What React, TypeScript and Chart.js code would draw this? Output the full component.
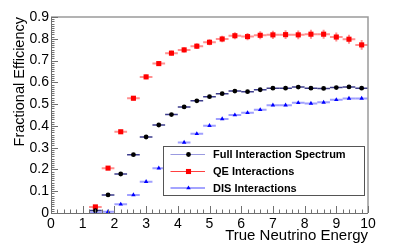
import React, { useEffect, useRef } from "react";
import { Chart, registerables } from "chart.js";

Chart.register(...registerables);

// ---- Data ----
const energies = [1.4, 1.8, 2.2, 2.6, 3.0, 3.4, 3.8, 4.2, 4.6, 5.0, 5.4, 5.8, 6.2, 6.6, 7.0, 7.4, 7.8, 8.2, 8.6, 9.0, 9.4, 9.8];
const binHalfWidth = 0.2;

const fullEff = [0.011, 0.083, 0.179, 0.268, 0.349, 0.404, 0.452, 0.487, 0.515, 0.534, 0.548, 0.560, 0.557, 0.566, 0.573, 0.573, 0.578, 0.573, 0.572, 0.576, 0.579, 0.573];
const fullErr = [0.003, 0.004, 0.004, 0.004, 0.004, 0.004, 0.004, 0.004, 0.004, 0.004, 0.004, 0.004, 0.004, 0.004, 0.004, 0.004, 0.004, 0.004, 0.004, 0.004, 0.004, 0.004];

const qeEff = [0.028, 0.206, 0.373, 0.527, 0.625, 0.686, 0.734, 0.749, 0.766, 0.784, 0.799, 0.814, 0.810, 0.816, 0.818, 0.819, 0.818, 0.821, 0.821, 0.808, 0.798, 0.772];
const qeErr = [0.006, 0.008, 0.009, 0.010, 0.011, 0.011, 0.012, 0.012, 0.013, 0.014, 0.015, 0.016, 0.017, 0.018, 0.019, 0.020, 0.020, 0.021, 0.021, 0.021, 0.021, 0.022];

const disEff = [0.002, 0.006, 0.040, 0.083, 0.144, 0.206, 0.265, 0.324, 0.364, 0.401, 0.432, 0.450, 0.460, 0.474, 0.495, 0.495, 0.506, 0.503, 0.508, 0.520, 0.526, 0.526];
const disErr = [0.003, 0.003, 0.004, 0.004, 0.004, 0.004, 0.004, 0.004, 0.004, 0.004, 0.004, 0.004, 0.004, 0.004, 0.004, 0.004, 0.004, 0.004, 0.004, 0.004, 0.004, 0.004];

const seriesLabels = ["Full Interaction Spectrum", "QE Interactions", "DIS Interactions"];
const xTitle = "True Neutrino Energy";
const yTitle = "Fractional Efficiency";

const FONT = "'Liberation Sans', Arial, Helvetica, sans-serif";

type Style = { marker: string; color: string; barColor: string; barWidth: number; legendLine: string; radius: number };
const styles: Style[] = [
  { marker: "circle", color: "#000000", barColor: "#3c3c8c", barWidth: 1.5, legendLine: "#9a9ae0", radius: 2.4 },
  { marker: "rect", color: "#ff0000", barColor: "rgba(255,70,70,0.6)", barWidth: 2, legendLine: "#ff4040", radius: 3.6 },
  { marker: "triangle", color: "#0000ff", barColor: "rgba(80,80,255,0.55)", barWidth: 2, legendLine: "#4a4aff", radius: 2.6 },
];
const errs = [fullErr, qeErr, disErr];

function drawMarker(ctx: CanvasRenderingContext2D, kind: string, x: number, y: number, r: number, color: string) {
  ctx.save();
  ctx.fillStyle = color;
  ctx.beginPath();
  if (kind === "circle") {
    ctx.arc(x, y, r, 0, Math.PI * 2);
  } else if (kind === "rect") {
    const s = r * Math.SQRT1_2;
    ctx.rect(x - s, y - s, 2 * s, 2 * s);
  } else {
    const h = r;
    ctx.moveTo(x, y - h);
    ctx.lineTo(x + h * 0.866, y + h * 0.5);
    ctx.lineTo(x - h * 0.866, y + h * 0.5);
    ctx.closePath();
  }
  ctx.fill();
  ctx.restore();
}

const rootPlugin = {
  id: "rootStyle",
  beforeDatasetsDraw(chart: any) {
    const ctx: CanvasRenderingContext2D = chart.ctx;
    const xs = chart.scales.x;
    const ys = chart.scales.y;
    ctx.save();
    chart.data.datasets.forEach((ds: any, i: number) => {
      const st = styles[i];
      ctx.strokeStyle = st.barColor;
      ctx.lineWidth = st.barWidth;
      ds.data.forEach((p: any, j: number) => {
        const yp = ys.getPixelForValue(p.y);
        const x0 = xs.getPixelForValue(p.x - binHalfWidth);
        const x1 = xs.getPixelForValue(p.x + binHalfWidth);
        const xp = xs.getPixelForValue(p.x);
        const e = errs[i][j];
        const y0 = ys.getPixelForValue(Math.max(0, p.y - e));
        const y1 = ys.getPixelForValue(p.y + e);
        ctx.beginPath();
        ctx.moveTo(x0, yp);
        ctx.lineTo(x1, yp);
        ctx.moveTo(xp, y0);
        ctx.lineTo(xp, y1);
        ctx.stroke();
      });
    });
    ctx.restore();
  },
  afterDatasetsDraw(chart: any) {
    const ctx: CanvasRenderingContext2D = chart.ctx;
    const xs = chart.scales.x;
    const ys = chart.scales.y;
    const { left, right, top, bottom } = chart.chartArea;
    ctx.save();
    // frame
    ctx.strokeStyle = "#9a9a9a";
    ctx.lineWidth = 1.5;
    ctx.beginPath();
    ctx.moveTo(left, top);
    ctx.lineTo(right, top);
    ctx.lineTo(right, bottom);
    ctx.stroke();
    ctx.strokeStyle = "#707070";
    ctx.lineWidth = 1;
    ctx.beginPath();
    ctx.moveTo(left + 0.5, top);
    ctx.lineTo(left + 0.5, bottom + 0.5);
    ctx.lineTo(right, bottom + 0.5);
    ctx.stroke();
    // y ticks: major 0.1, minor 0.01
    ctx.beginPath();
    for (let k = 0; k <= 90; k++) {
      const v = k / 100;
      const yp = Math.round(ys.getPixelForValue(v)) + 0.5;
      const len = k % 10 === 0 ? 7 : 3.5;
      ctx.moveTo(left, yp);
      ctx.lineTo(left + len, yp);
    }
    // x ticks: major 1, minor 0.2
    for (let k = 0; k <= 50; k++) {
      const v = k / 5;
      const xp = Math.round(xs.getPixelForValue(v)) + 0.5;
      const len = k % 5 === 0 ? 7 : 3.5;
      ctx.moveTo(xp, bottom);
      ctx.lineTo(xp, bottom - len);
    }
    ctx.stroke();

    // legend box
    const lx0 = 163.5, lx1 = 364.5, ly0 = 146.5, ly1 = 195.5;
    ctx.fillStyle = "#ffffff";
    ctx.fillRect(lx0, ly0, lx1 - lx0, ly1 - ly0);
    ctx.strokeStyle = "#555555";
    ctx.lineWidth = 1;
    ctx.strokeRect(lx0, ly0, lx1 - lx0, ly1 - ly0);
    const rowsY = [154.5, 171.5, 188];
    ctx.font = `bold 11px ${FONT}`;
    ctx.textBaseline = "middle";
    ctx.textAlign = "left";
    seriesLabels.forEach((lab, i) => {
      const st = styles[i];
      const y = rowsY[i];
      ctx.strokeStyle = st.legendLine;
      ctx.lineWidth = 1.2;
      ctx.beginPath();
      ctx.moveTo(170.5, y);
      ctx.lineTo(205, y);
      ctx.stroke();
      drawMarker(ctx, st.marker, 188.5, y, st.radius, st.color);
      ctx.fillStyle = "#000";
      ctx.fillText(lab, 213, y + 0.5);
    });
    ctx.restore();
  },
};

export default function App() {
  const ref = useRef<HTMLCanvasElement | null>(null);
  useEffect(() => {
    document.body.style.margin = "0";
    const canvas = ref.current;
    if (!canvas) return;
    const mk = (ys: number[]) => energies.map((x, i) => ({ x, y: ys[i] }));
    const chart = new Chart(canvas, {
      type: "scatter",
      data: {
        datasets: [fullEff, qeEff, disEff].map((d, i) => ({
          label: seriesLabels[i],
          data: mk(d),
          showLine: false,
          pointStyle: styles[i].marker as any,
          pointRadius: styles[i].radius,
          pointBackgroundColor: styles[i].color,
          pointBorderColor: styles[i].color,
          pointBorderWidth: 0,
        })),
      },
      options: {
        animation: false,
        responsive: false,
        layout: { padding: { top: 17, right: 41, left: 0, bottom: 0 } },
        plugins: { legend: { display: false }, tooltip: { enabled: false } },
        scales: {
          x: {
            type: "linear",
            min: 0,
            max: 10,
            grid: { display: false, drawTicks: false },
            border: { display: false },
            ticks: {
              stepSize: 1,
              padding: 3,
              color: "#000",
              font: { family: FONT, size: 14 },
              maxRotation: 0,
              callback: (v: any) => String(v),
            },
            title: {
              display: true,
              text: xTitle,
              align: "end",
              color: "#000",
              font: { family: FONT, size: 15 },
              padding: { top: 0, bottom: 0 },
            },
            afterFit: (s: any) => {
              s.height = 32;
            },
          },
          y: {
            type: "linear",
            min: 0,
            max: 0.9,
            grid: { display: false, drawTicks: false },
            border: { display: false },
            ticks: {
              stepSize: 0.1,
              padding: 2,
              color: "#000",
              font: { family: FONT, size: 14 },
              callback: (v: any) => (Math.abs(v) < 1e-9 ? "0" : Number(v).toFixed(1)),
            },
            title: {
              display: true,
              text: yTitle,
              align: "end",
              color: "#000",
              font: { family: FONT, size: 14.5 },
              padding: { top: 11, bottom: 0 },
            },
            afterFit: (s: any) => {
              s.width = 51;
            },
          },
        },
      },
      plugins: [rootPlugin],
    });
    return () => chart.destroy();
  }, []);
  return <canvas ref={ref} width={409} height={245} style={{ width: 409, height: 245, display: "block" }} />;
}
